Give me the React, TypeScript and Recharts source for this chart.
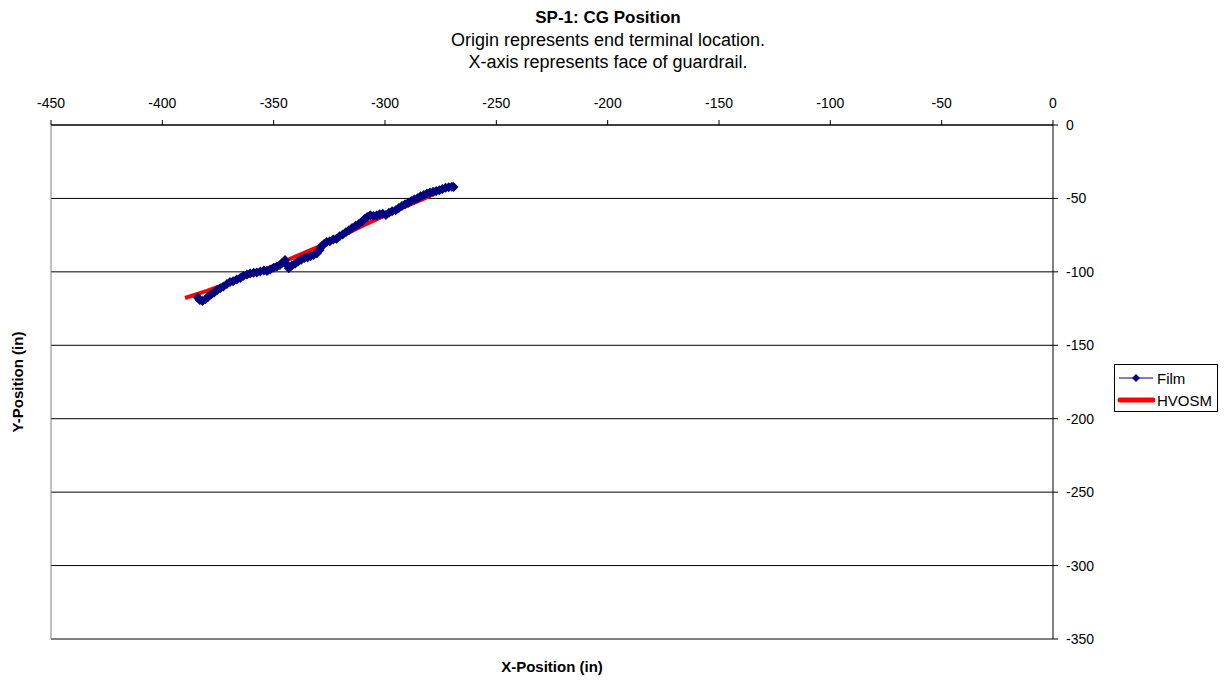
import React from 'react';
import { ScatterChart, Scatter, XAxis, YAxis, CartesianGrid, ReferenceLine } from 'recharts';

const xTicks = [-450, -400, -350, -300, -250, -200, -150, -100, -50, 0];
const yTicks = [0, -50, -100, -150, -200, -250, -300, -350];

// film-tracked CG path (x, y in inches)
const filmX = [
    -384.0, -383.2, -382.0, -380.6, -379.4, -378.2, -376.8, -375.4, -374.0, -372.6,
    -371.0, -369.6, -368.2, -366.6, -365.0, -363.6, -362.0, -360.6, -359.0, -357.6,
    -356.0, -354.4, -353.0, -351.6, -350.0, -348.6, -347.2, -346.0, -344.9, -344.0,
    -343.2, -341.8, -340.4, -339.0, -337.6, -336.2, -334.8, -333.4, -332.0, -330.6,
    -329.4, -328.4, -327.4, -326.2, -324.8, -323.2, -321.8, -320.4, -319.0, -317.6,
    -316.2, -314.8, -313.2, -311.8, -310.4, -309.2, -308.0, -306.6, -305.2, -303.8,
    -302.4, -301.0, -299.6, -298.2, -296.8, -295.2, -293.8, -292.4, -291.0, -289.6,
    -288.2, -286.8, -285.4, -284.0, -282.6, -281.2, -279.8, -278.4, -277.0, -275.6,
    -274.2, -272.8, -271.4, -270.0, -269.2,
];
const filmY = [
    -117.6, -119.2, -119.8, -118.6, -117.0, -115.6, -114.2, -112.4, -111.2, -110.0,
    -108.2, -106.9, -106.4, -105.2, -104.2, -102.6, -101.8, -101.2, -100.6, -100.4,
    -99.8, -99.0, -99.4, -98.6, -97.2, -96.4, -95.4, -93.8, -92.0, -95.2,
    -97.6, -95.6, -94.4, -93.0, -91.8, -90.6, -90.2, -89.4, -88.6, -87.4,
    -85.2, -82.6, -81.0, -79.6, -79.2, -78.0, -77.4, -75.8, -74.6, -73.0,
    -71.6, -70.2, -68.6, -67.4, -65.8, -64.0, -62.6, -61.4, -62.0, -61.6,
    -60.8, -60.4, -61.2, -59.8, -58.8, -58.0, -56.6, -55.2, -54.0, -53.0,
    -51.8, -50.8, -49.8, -48.6, -47.6, -46.6, -46.0, -45.4, -45.0, -44.4,
    -43.6, -42.8, -42.4, -42.0, -42.2,
];

// HVOSM simulation path
const hvosmX = [-389.8, -380, -370, -360, -350, -340, -330, -320, -310, -300, -290, -283, -277];
const hvosmY = [-117.8, -113, -107.5, -102, -96, -89.5, -83, -76, -68.5, -61.5, -55, -50.5, -46.3];

const film = filmX.map((x, i) => ({ x, y: filmY[i] }));
const hvosm = hvosmX.map((x, i) => ({ x, y: hvosmY[i] }));

const NAVY = '#000080';
const RED = '#ff0000';
const FONT = '"Liberation Sans", Arial, sans-serif';

const Diamond = (props: any) => {
    const { cx, cy } = props;
    if (cx == null || cy == null) return <g />;
    const r = 5;
    return <polygon points={`${cx},${cy - r} ${cx + r},${cy} ${cx},${cy + r} ${cx - r},${cy}`} fill={NAVY} />;
};

const NoDot = () => <g />;

const centered = (x: number, y: number, style: React.CSSProperties = {}): React.CSSProperties => ({
    position: 'absolute',
    left: x,
    top: y,
    transform: 'translate(-50%, -50%)',
    whiteSpace: 'nowrap',
    lineHeight: 1,
    color: '#000',
    ...style,
});

export default function App() {
    return (
        <div style={{ position: 'absolute', left: 0, top: 0, width: 1227, height: 681, background: '#fff', fontFamily: FONT }}>
            <div style={centered(608, 17, { fontSize: 17, fontWeight: 'bold' })}>SP-1: CG Position</div>
            <div style={centered(608, 40, { fontSize: 18 })}>Origin represents end terminal location.</div>
            <div style={centered(608, 62, { fontSize: 18 })}>X-axis represents face of guardrail.</div>
            <div style={centered(552, 666, { fontSize: 15, fontWeight: 'bold' })}>X-Position (in)</div>
            <div style={centered(17, 382, { fontSize: 15, fontWeight: 'bold', transform: 'translate(-50%, -50%) rotate(-90deg)' })}>Y-Position (in)</div>

            <ScatterChart width={1227} height={681} margin={{ top: 95, right: 114, bottom: 42, left: 51 }} style={{ fontFamily: FONT }}>
                <CartesianGrid vertical={false} stroke="#000" />
                <XAxis
                    type="number"
                    dataKey="x"
                    orientation="top"
                    domain={[-450, 0]}
                    ticks={xTicks}
                    height={30}
                    tickSize={5}
                    tickMargin={12}
                    stroke="#000"
                    tick={{ fill: '#000', fontSize: 14 }}
                />
                <YAxis
                    type="number"
                    dataKey="y"
                    orientation="right"
                    domain={[-350, 0]}
                    ticks={yTicks}
                    width={60}
                    tickSize={5}
                    tickMargin={8}
                    stroke="#000"
                    tick={{ fill: '#000', fontSize: 14 }}
                />
                <ReferenceLine y={-350} stroke="#808080" strokeWidth={2} />
                <ReferenceLine x={-450} stroke="#808080" />
                <Scatter
                    name="HVOSM"
                    data={hvosm}
                    line={{ stroke: RED, strokeWidth: 4 }}
                    lineType="joint"
                    shape={NoDot}
                    isAnimationActive={false}
                />
                <Scatter
                    name="Film"
                    data={film}
                    line={{ stroke: NAVY, strokeWidth: 1 }}
                    lineType="joint"
                    shape={Diamond}
                    isAnimationActive={false}
                />
            </ScatterChart>

            <div style={{ position: 'absolute', left: 1114, top: 364, width: 104, height: 48, border: '1px solid #000', boxSizing: 'border-box', fontSize: 15 }}>
                <svg width={40} height={47} style={{ position: 'absolute', left: 0, top: 0 }}>
                    <line x1={4} y1={13} x2={38} y2={13} stroke={NAVY} strokeWidth={1} />
                    <polygon points="21,9 25,13 21,17 17,13" fill={NAVY} />
                    <line x1={5} y1={35} x2={38} y2={35} stroke={RED} strokeWidth={5} strokeLinecap="round" />
                </svg>
                <div style={{ position: 'absolute', left: 42, top: 6, lineHeight: 1 }}>Film</div>
                <div style={{ position: 'absolute', left: 42, top: 28, lineHeight: 1 }}>HVOSM</div>
            </div>
        </div>
    );
}
